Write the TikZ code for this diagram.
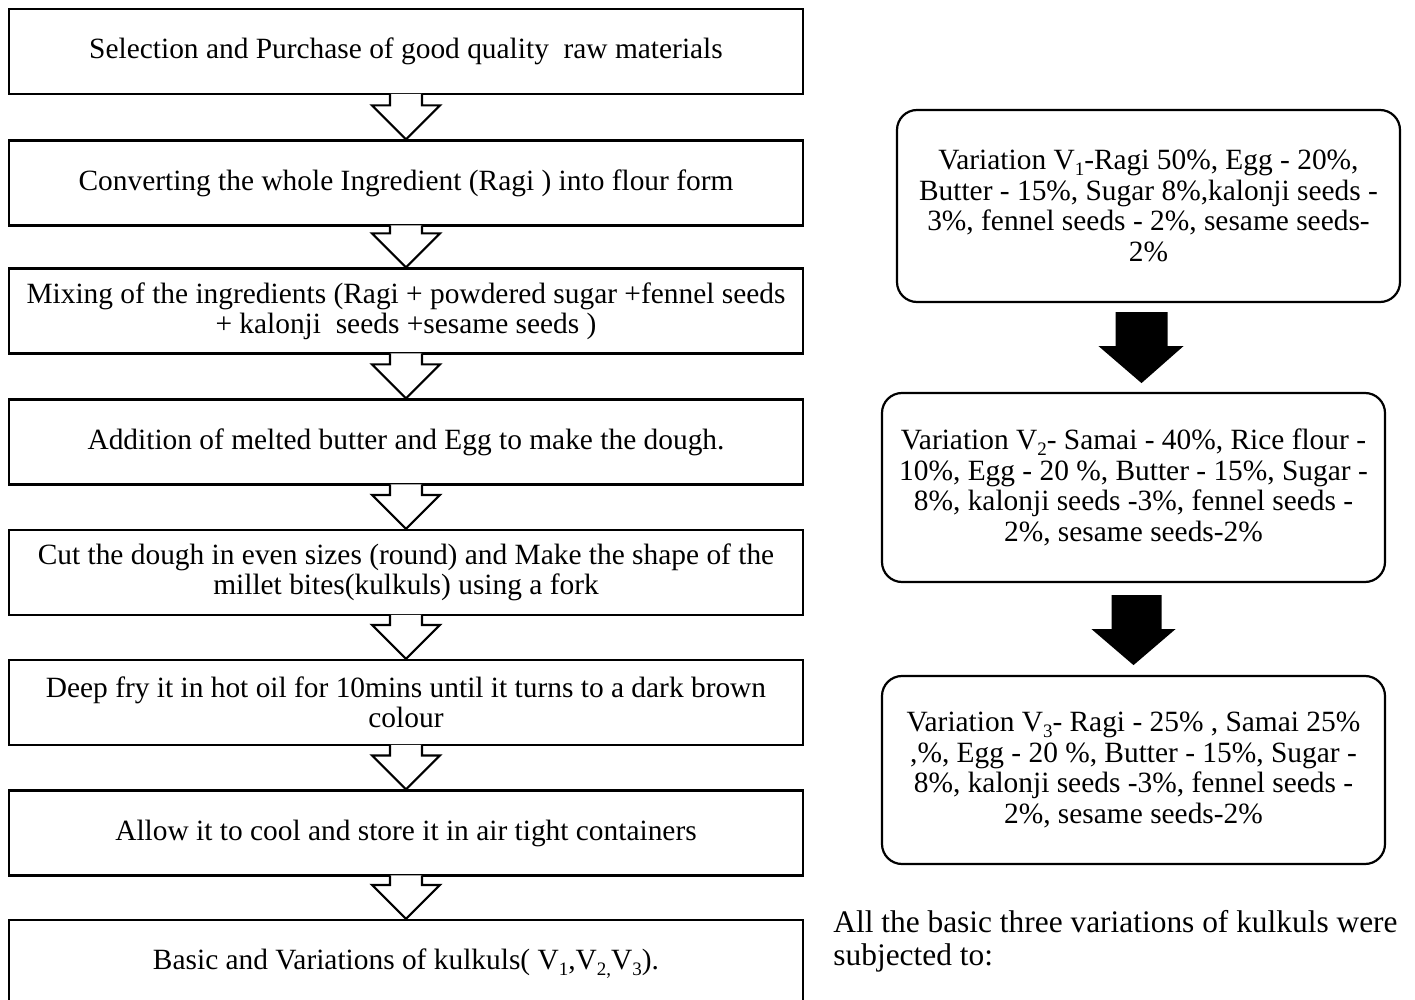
\documentclass[tikz,border=0pt]{standalone}
\usepackage{fontspec}
\setmainfont{Liberation Serif}
\usetikzlibrary{calc}
\newcommand\sbs[1]{\raisebox{-0.45ex}{\fontsize{9.5}{9.5}\selectfont #1}}
\begin{document}
\begin{tikzpicture}[x=0.5pt,y=-0.5pt,
  stepbox/.style={draw, line width=1.1pt, minimum width=397pt, minimum height=42.5pt,
    align=center, inner sep=0pt, font=\fontsize{14.7}{15}\selectfont},
  varbox/.style={draw, line width=1.1pt, rounded corners=10pt, minimum width=251.5pt,
    align=center, inner sep=0pt, font=\fontsize{14.7}{15.3}\selectfont},
  hollow/.style={draw, fill=white, line width=1.1pt, line join=miter},
  solidarrow/.style={fill=black}]
\useasboundingbox (0,0) rectangle (1415,1000);

% left flow boxes
\node[stepbox] (b1) at (406,51.5) {Selection and Purchase of good quality\ \ raw materials};
\node[stepbox] (b2) at (406,183) {Converting the whole Ingredient (Ragi ) into flour form};
\node[stepbox] (b3) at (406,311) {Mixing of the ingredients (Ragi + powdered sugar +fennel seeds\\+ kalonji\ \ seeds +sesame seeds )};
\node[stepbox] (b4) at (406,442) {Addition of melted butter and Egg to make the dough.};
\node[stepbox] (b5) at (406,572.5) {Cut the dough in even sizes (round) and Make the shape of the\\millet bites(kulkuls) using a fork};
\node[stepbox] (b6) at (406,702.5) {Deep fry it in hot oil for 10mins until it turns to a dark brown\\colour};
\node[stepbox] (b7) at (406,833) {Allow it to cool and store it in air tight containers};
\node[stepbox, minimum height=44pt] (b8) at (406,964) {Basic and Variations of kulkuls( V\sbs{1},V\sbs{2,}V\sbs{3}).};

% hollow arrows
\foreach \a/\b in {b1/b2,b2/b3,b3/b4,b4/b5,b5/b6,b6/b7,b7/b8}{
  \draw[hollow] ($(\a.south)+(-16,-1.2)$) |- ($(\b.north)+(-34,-34)$) -- (\b.north)
    -- ($(\b.north)+(34,-34)$) -| ($(\a.south)+(16,-1.2)$);
}

% right variation boxes
\node[varbox, minimum height=96pt] (v1) at (1148.5,206) {Variation V\sbs{1}-Ragi 50\%, Egg - 20\%,\\Butter - 15\%, Sugar 8\%,kalonji seeds -\\3\%, fennel seeds - 2\%, sesame seeds-\\2\%};
\node[varbox, minimum height=94.5pt] (v2) at (1133.5,487.5) {Variation V\sbs{2}- Samai - 40\%, Rice flour -\\10\%, Egg - 20 \%, Butter - 15\%, Sugar -\\8\%, kalonji seeds -3\%, fennel seeds -\\2\%, sesame seeds-2\%};
\node[varbox, minimum height=94pt] (v3) at (1133.5,770) {Variation V\sbs{3}- Ragi - 25\% , Samai 25\%\\,\%, Egg - 20 \%, Butter - 15\%, Sugar -\\8\%, kalonji seeds -3\%, fennel seeds -\\2\%, sesame seeds-2\%};

% solid arrows
\fill[solidarrow] ($(v1.south)+(-33,9)$) -- ++(0,34) -- ++(-17,0) -- ($(v1.south)+(-7,80)$)
  -- ($(v1.south)+(35,43)$) -- ++(-16,0) -- ($(v1.south)+(19,9)$) -- cycle;
\fill[solidarrow] ($(v2.south)+(-22,12)$) -- ++(0,34) -- ++(-20,0) -- ($(v2.south)+(0,82)$)
  -- ($(v2.south)+(42,46)$) -- ++(-14,0) -- ($(v2.south)+(28,12)$) -- cycle;

% closing text
\node[anchor=north west, inner sep=0pt, align=left, font=\fontsize{15.7}{16.5}\selectfont] (txt) at (833,910)
  {All the basic three variations of kulkuls were\\subjected to:};
\end{tikzpicture}
\end{document}
